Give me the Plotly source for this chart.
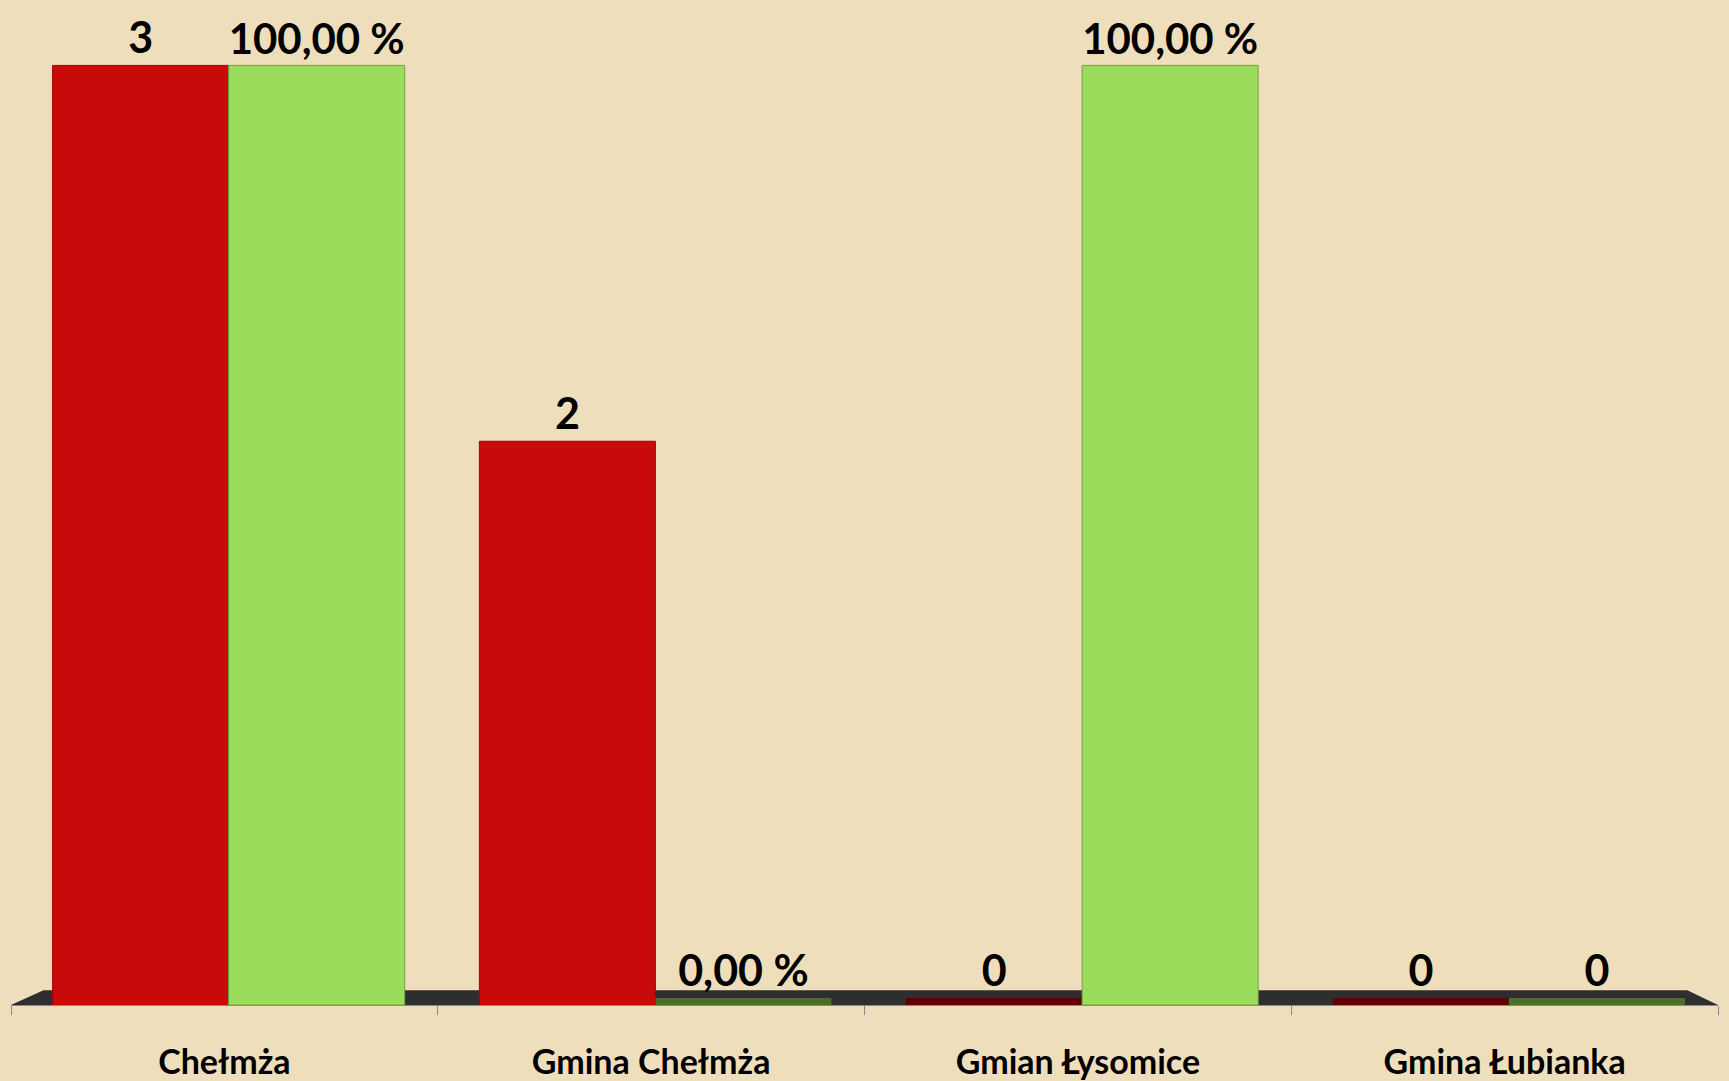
import plotly.graph_objects as go

categories = ["Chełmża", "Gmina Chełmża", "Gmian Łysomice", "Gmina Łubianka"]
red_values = [3, 2, 0, 0]
red_labels = ["3", "2", "0", "0"]
green_values = [1.0, 0.0, 1.0, 0.0]
green_labels = ["100,00 %", "0,00 %", "100,00 %", "0"]

# left (red) value axis starts at 0.5 in the original chart; values at or below
# the axis minimum are drawn as a flat slab on the floor, as the spreadsheet does
RED_AXIS = [0.5, 3.174]
GREEN_AXIS = [0.0, 1.0696]
RED_FLOOR = 0.5185
GREEN_FLOOR = 0.0074

RED = "#C80A0A"
RED_DARK = "#5E0000"
GREEN = "#9CDC5C"
GREEN_DARK = "#4C6E2A"
BG = "#EFDEBB"
FONT = "Lato"

BAR_W = 0.4125
SHIFT = 0.01

red_plot = [max(v, RED_FLOOR) for v in red_values]
green_plot = [max(v, GREEN_FLOOR) for v in green_values]

fig = go.Figure()
fig.add_trace(go.Bar(
    x=categories, y=red_plot, text=red_labels, textposition="outside",
    hovertext=[str(v) for v in red_values], hoverinfo="x+text",
    width=BAR_W, offset=-BAR_W + SHIFT,
    marker=dict(color=[RED if v > 0 else RED_DARK for v in red_values],
                line=dict(color="#9E0606", width=[0 if v == 0 else 1 for v in red_values])),
    textfont=dict(family=FONT, size=43, color="black", weight="bold"),
    cliponaxis=False, yaxis="y", showlegend=False,
))
fig.add_trace(go.Bar(
    x=categories, y=green_plot, text=green_labels, textposition="outside",
    hovertext=[str(v) for v in green_values], hoverinfo="x+text",
    width=BAR_W, offset=SHIFT,
    marker=dict(color=[GREEN if v > 0 else GREEN_DARK for v in green_values],
                line=dict(color="#6FA640", width=[0 if v == 0 else 1 for v in green_values])),
    textfont=dict(family=FONT, size=43, color="black", weight="bold"),
    cliponaxis=False, yaxis="y2", showlegend=False,
))

fig.update_layout(
    width=1729, height=1081,
    paper_bgcolor=BG, plot_bgcolor=BG,
    margin=dict(l=11, r=11, t=0, b=67),
    barmode="overlay",
    font=dict(family=FONT, color="black"),
    xaxis=dict(
        showline=True, linecolor="#8A8A8A", linewidth=1,
        ticks="outside", tickson="boundaries", ticklen=9, tickcolor="#8A8A8A",
        tickfont=dict(family=FONT, size=34, color="black", weight="bold"),
        ticklabelstandoff=27,
        showgrid=False,
    ),
    yaxis=dict(range=RED_AXIS, visible=False, showgrid=False, zeroline=False),
    yaxis2=dict(range=GREEN_AXIS, visible=False, overlaying="y",
                showgrid=False, zeroline=False),
    shapes=[dict(type="path", xref="paper", yref="y2",
                 path="M 0,0 L 0.019,0.0158 L 0.982,0.0158 L 1,0 Z",
                 fillcolor="#2E2E2E", line=dict(width=0), layer="below")],
)

fig.write_html("out.html", config={"displayModeBar": False},
               post_script="document.body.style.margin='0';document.body.style.background='%s';" % BG)
